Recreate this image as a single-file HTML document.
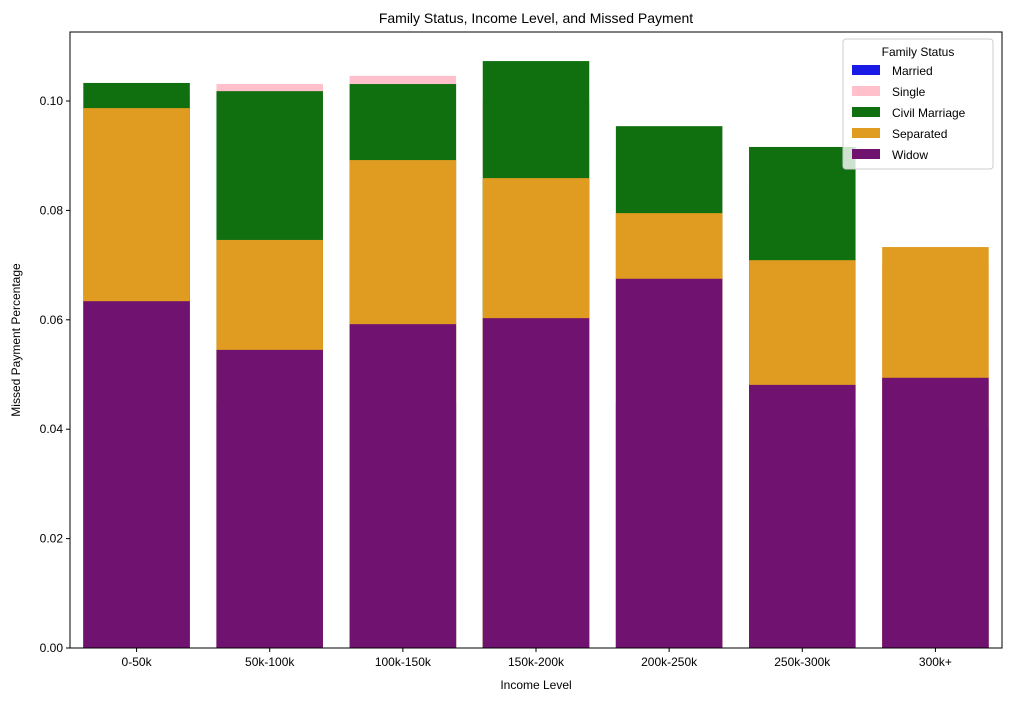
<!DOCTYPE html>
<html><head><meta charset="utf-8"><style>
body{margin:0;background:#fff;font-family:"Liberation Sans","DejaVu Sans",sans-serif;}
svg text{font-family:"Liberation Sans","DejaVu Sans",sans-serif;fill:#000;}
</style></head><body>
<svg id="chart" width="1010" height="701"></svg>
<script>
const categories=["0-50k","50k-100k","100k-150k","150k-200k","200k-250k","250k-300k","300k+"];
const seriesNames=["Married","Single","Civil Marriage","Separated","Widow"];
const married=[0.045,0.045,0.045,0.045,0.045,0.04,0.04];
const single=[0.100,0.1031,0.1046,0.100,0.090,0.085,0.070];
const civil=[0.1033,0.1018,0.1031,0.1073,0.0954,0.0916,0];
const separated=[0.0987,0.0746,0.0892,0.0859,0.0795,0.0709,0.0733];
const widow=[0.0634,0.0545,0.0592,0.0603,0.0675,0.0481,0.0494];
const yTicks=[0,0.02,0.04,0.06,0.08,0.10];
const yTickLabels=["0.00","0.02","0.04","0.06","0.08","0.10"];
const colors=["#1a1ae6","#ffc0cb","#107010","#e09c20","#6f1270"];
const series=[married,single,civil,separated,widow];
const svg=document.getElementById('chart');const NS="http://www.w3.org/2000/svg";
const L=70,R=1002,T=32,B=648;
const y=v=>B-v*5470;
const band=(R-L)/categories.length;
const x=i=>L+band*i;
function el(t,a,p){const e=document.createElementNS(NS,t);for(const k in a)e.setAttribute(k,a[k]);(p||svg).appendChild(e);return e;}
series.forEach((s,si)=>{s.forEach((v,i)=>{
 const r=el('rect',{x:x(i)+band*0.1,y:y(v),width:band*0.8,height:B-y(v),fill:colors[si]});
 
 
});});
el('rect',{x:L,y:T,width:R-L,height:B-T,fill:'none',stroke:'#000','stroke-width':1});
yTicks.forEach((v,i)=>{
 el('line',{x1:L-4,x2:L,y1:y(v),y2:y(v),stroke:'#000'});
 const t=el('text',{x:L-7,y:y(v)+4,'text-anchor':'end','font-size':12});t.textContent=yTickLabels[i];
 
 
});
categories.forEach((c,i)=>{
 const cx=x(i)+band/2;
 el('line',{x1:cx,x2:cx,y1:B,y2:B+4,stroke:'#000'});
 const t=el('text',{x:cx,y:B+18,'text-anchor':'middle','font-size':12});t.textContent=c;
 
 
});
let t=el('text',{x:(L+R)/2,y:23,'text-anchor':'middle','font-size':14});t.textContent="Family Status, Income Level, and Missed Payment";

t=el('text',{x:(L+R)/2,y:689,'text-anchor':'middle','font-size':12});t.textContent="Income Level";

t=el('text',{x:20,y:(T+B)/2,'text-anchor':'middle','font-size':12,transform:'rotate(-90 20 '+(T+B)/2+')'});t.textContent="Missed Payment Percentage";

const lg=el('g',{});

el('rect',{x:843,y:39,width:150,height:130,rx:3,fill:'#fff','fill-opacity':0.8,stroke:'#ccc'},lg);
t=el('text',{x:918,y:56,'text-anchor':'middle','font-size':12},lg);t.textContent="Family Status";
seriesNames.forEach((n,i)=>{
 const g=el('g',{},lg);
 
 el('rect',{x:852,y:65+i*21,width:28,height:10,fill:colors[i]},g);
 const tt=el('text',{x:892,y:75+i*21,'font-size':12},g);tt.textContent=n;
});
</script>
</body></html>
